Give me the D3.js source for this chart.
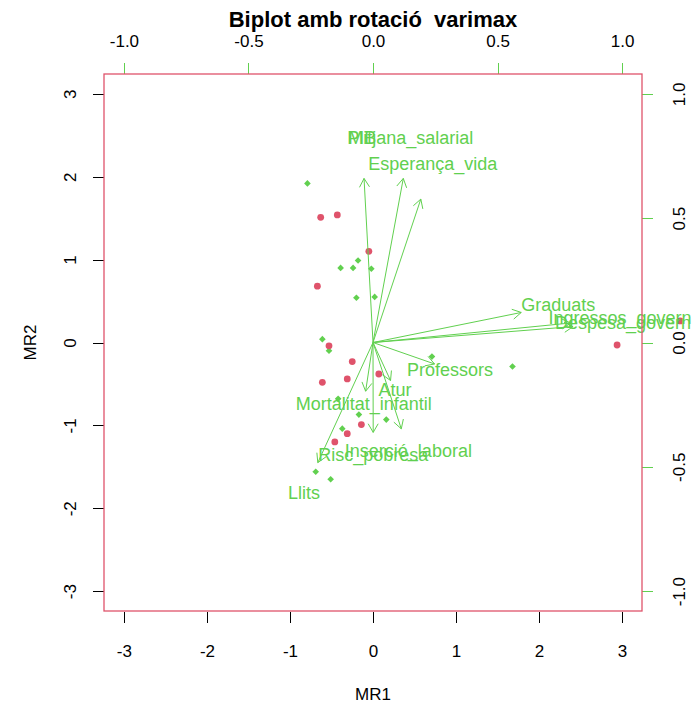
<!DOCTYPE html>
<html>
<head>
  <meta charset="utf-8">
  <title>Biplot amb rotació varimax</title>
  <script src="https://d3js.org/d3.v7.min.js"></script>
  <style>
    body { margin: 0; background: #fff; }
    svg { font-family: "Liberation Sans", Arial, sans-serif; }
    .tick line { shape-rendering: crispEdges; }
  </style>
</head>
<body>
  <svg width="693" height="711"></svg>
  <script>
    // scores (MR1, MR2) per group
    var redX = [-0.63, -0.43, -0.05, -0.67, -0.53, -0.25, 0.07, -0.61, -0.31, -0.14, -0.31, -0.46, 2.94, 3.70];
    var redY = [1.51, 1.54, 1.10, 0.68, -0.04, -0.23, -0.38, -0.48, -0.44, -0.99, -1.10, -1.20, -0.03, 0.26];
    var greenX = [-0.79, -0.18, -0.39, -0.24, -0.02, -0.20, 0.02, -0.61, -0.53, 0.71, 1.68, -0.17, 0.16, -0.37, -0.69, -0.51, -0.42];
    var greenY = [1.92, 0.99, 0.90, 0.90, 0.89, 0.54, 0.55, 0.04, -0.10, -0.17, -0.29, -0.87, -0.93, -1.04, -1.56, -1.65, -0.68];

    // loadings
    var varNames = ["PIB", "Mitjana_salarial", "Esperança_vida", "Graduats", "Ingressos_govern", "Despesa_govern",
                    "Professors", "Atur", "Mortalitat_infantil", "Inserció_laboral", "Risc_pobresa", "Llits"];
    var load1 = [-0.045, 0.152, 0.240, 0.744, 0.992, 1.004, 0.309, 0.088, -0.037, 0.142, 0.001, -0.277];
    var load2 = [0.825, 0.825, 0.721, 0.151, 0.098, 0.080, -0.108, -0.191, -0.245, -0.434, -0.452, -0.604];

    var scoreTicks = [-3, -2, -1, 0, 1, 2, 3];
    var loadTicks = [-1, -0.5, 0, 0.5, 1];

    var red = "#DF536B", green = "#61D04F";
    var pL = 104, pR = 642, pT = 74, pB = 611;

    var svg = d3.select("svg");

    var x = d3.scaleLinear().domain([-3.24, 3.24]).range([pL, pR]);
    var y = d3.scaleLinear().domain([-3.24, 3.24]).range([pB, pT]);
    var lx = d3.scaleLinear().domain([-1.08, 1.08]).range([pL, pR]);
    var ly = d3.scaleLinear().domain([-1.08, 1.08]).range([pB, pT]);

    // bottom axis
    svg.append("g")
        .attr("transform", "translate(0," + (pB + 1) + ")")
        .call(d3.axisBottom(x).tickValues(scoreTicks).tickSize(11).tickPadding(22).tickFormat(d3.format("d")));
    // left axis
    var gl = svg.append("g")
        .attr("transform", "translate(" + pL + ",0)")
        .call(d3.axisLeft(y).tickValues(scoreTicks).tickSize(11).tickFormat(d3.format("d")));
    gl.selectAll("text")
        .attr("x", null).attr("dy", null)
        .attr("transform", "translate(-28,0) rotate(-90)")
        .attr("text-anchor", "middle");
    // top axis (loadings)
    var gt = svg.append("g")
        .attr("transform", "translate(0," + pT + ")")
        .call(d3.axisTop(lx).tickValues(loadTicks).tickSize(11).tickPadding(16).tickFormat(d3.format(".1f")));
    gt.selectAll("line").attr("stroke", green);
    // right axis (loadings)
    var gr = svg.append("g")
        .attr("transform", "translate(" + pR + ",0)")
        .call(d3.axisRight(ly).tickValues(loadTicks).tickSize(11).tickFormat(d3.format(".1f")));
    gr.selectAll("line").attr("stroke", green);
    gr.selectAll("text")
        .attr("x", null).attr("dy", null)
        .attr("transform", "translate(43,0) rotate(-90)")
        .attr("text-anchor", "middle");

    svg.selectAll(".domain").remove();
    svg.selectAll(".tick text")
        .attr("fill", "#000")
        .style("font-size", "17px")
        .style("font-family", "'Liberation Sans', Arial, sans-serif")
        .text(function() { return d3.select(this).text().replace("\u2212", "-"); });

    // axis titles and main title
    svg.append("text")
        .attr("x", (pL + pR) / 2).attr("y", 700)
        .attr("text-anchor", "middle")
        .style("font-size", "17px")
        .text("MR1");
    svg.append("text")
        .attr("transform", "translate(36," + ((pT + pB) / 2) + ") rotate(-90)")
        .attr("text-anchor", "middle")
        .style("font-size", "17px")
        .text("MR2");
    svg.append("text")
        .attr("x", (pL + pR) / 2).attr("y", 27)
        .attr("text-anchor", "middle")
        .style("font-size", "22px")
        .style("font-weight", "bold")
        .style("white-space", "pre")
        .text("Biplot amb rotació  varimax");

    // score points
    var redPts = redX.map(function(v, i) { return [v, redY[i]]; });
    var greenPts = greenX.map(function(v, i) { return [v, greenY[i]]; });

    svg.selectAll(".gpt")
        .data(greenPts)
      .enter().append("path")
        .attr("class", "gpt")
        .attr("d", d3.symbol().type(d3.symbolDiamond2).size(28))
        .attr("transform", function(d) { return "translate(" + x(d[0]) + "," + y(d[1]) + ")"; })
        .attr("fill", green);

    svg.selectAll(".rpt")
        .data(redPts)
      .enter().append("circle")
        .attr("class", "rpt")
        .attr("cx", function(d) { return x(d[0]); })
        .attr("cy", function(d) { return y(d[1]); })
        .attr("r", 3.4)
        .attr("fill", red);

    // loading labels
    var loads = varNames.map(function(n, i) { return {name: n, a: load1[i], b: load2[i]}; });

    svg.selectAll(".lab")
        .data(loads)
      .enter().append("text")
        .attr("class", "lab")
        .attr("x", function(d) { return lx(d.a); })
        .attr("y", function(d) { return ly(d.b); })
        .attr("dy", "0.35em")
        .attr("text-anchor", "middle")
        .attr("fill", green)
        .style("font-size", "18px")
        .text(function(d) { return d.name; });

    // arrows drawn to 0.8 of the loading
    var x0 = lx(0), y0 = ly(0), head = 10;
    var arrows = svg.append("g").attr("stroke", green).attr("stroke-width", 1).attr("fill", "none");
    loads.forEach(function(d) {
      var tx = lx(d.a * 0.8), ty = ly(d.b * 0.8);
      var ang = Math.atan2(ty - y0, tx - x0);
      arrows.append("line").attr("x1", x0).attr("y1", y0).attr("x2", tx).attr("y2", ty);
      [-Math.PI / 6, Math.PI / 6].forEach(function(o) {
        arrows.append("line")
            .attr("x1", tx).attr("y1", ty)
            .attr("x2", tx - head * Math.cos(ang + o))
            .attr("y2", ty - head * Math.sin(ang + o));
      });
    });

    // box
    svg.append("rect")
        .attr("x", pL).attr("y", pT)
        .attr("width", pR - pL).attr("height", pB - pT)
        .attr("fill", "none")
        .attr("stroke", red)
        .attr("stroke-width", 1.3);
  </script>
</body>
</html>
